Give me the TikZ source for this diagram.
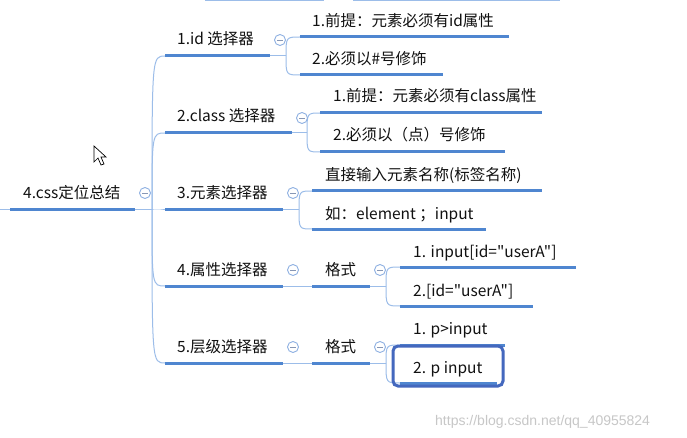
\documentclass[tikz,border=0pt]{standalone}
\usepackage{fontspec}
\setmainfont{Noto Sans CJK SC}[Ligatures=TeXOff]
\newfontfamily\wmfont{Liberation Sans}
\definecolor{ulblue}{HTML}{4F86D0}
\definecolor{lineblue}{HTML}{9CBDE9}
\definecolor{circblue}{HTML}{8EB0E2}
\definecolor{minuscol}{HTML}{8797B5}
\definecolor{boxblue}{HTML}{4468BE}
\definecolor{txtcol}{HTML}{111111}
\tikzset{
  ul/.style={line width=3pt, color=ulblue},
  conn/.style={line width=1pt, color=lineblue},
  txt/.style={anchor=base west, inner sep=0pt, font=\fontsize{15.5}{18}\selectfont, text=txtcol},
  coll/.style={circle, draw=circblue, line width=0.9pt, fill=white, minimum size=11pt, inner sep=0pt,
    path picture={\draw[minuscol, line width=0.9pt] ([xshift=-2.8pt]path picture bounding box.center) -- ([xshift=2.8pt]path picture bounding box.center);}},
  selbox/.style={draw=boxblue, line width=3pt, rounded corners=5pt},
}
\begin{document}
\begin{tikzpicture}[x=1pt,y=-1pt]
\useasboundingbox[fill=white] (0,0) rectangle (687,438);
% top edge artifacts
\draw[conn] (205,0.5) -- (324,0.5);
\draw[conn] (353,0.5) -- (560,0.5);

% ---------- coordinates ----------
% root
\coordinate (r-l) at (0,210);
\coordinate (r-s) at (10,210);
\coordinate (r-e) at (135,210);
\coordinate (rb) at (152,210);
% level 1
\coordinate (a-s) at (165,56);  \coordinate (a-e) at (270,56);  \coordinate (ab) at (286,56);
\coordinate (b-s) at (165,133); \coordinate (b-e) at (292,133); \coordinate (bb) at (307,133);
\coordinate (c-s) at (165,210); \coordinate (c-e) at (283,210); \coordinate (cb) at (299,210);
\coordinate (d-s) at (165,286); \coordinate (d-e) at (283,286);
\coordinate (e-s) at (165,363); \coordinate (e-e) at (283,363);
% level 2
\coordinate (a1-s) at (300,37);  \coordinate (a1-e) at (509,37);
\coordinate (a2-s) at (300,75);  \coordinate (a2-e) at (443,75);
\coordinate (b1-s) at (320,113); \coordinate (b1-e) at (542,113);
\coordinate (b2-s) at (320,152); \coordinate (b2-e) at (505,152);
\coordinate (c1-s) at (312,191); \coordinate (c1-e) at (542,191);
\coordinate (c2-s) at (312,229); \coordinate (c2-e) at (486,229);
\coordinate (d1-s) at (312,286); \coordinate (d1-e) at (370,286); \coordinate (d1b) at (386,286);
\coordinate (e1-s) at (312,363); \coordinate (e1-e) at (370,363); \coordinate (e1b) at (386,363);
% level 3
\coordinate (d11-s) at (400,267); \coordinate (d11-e) at (576,267);
\coordinate (d12-s) at (400,306); \coordinate (d12-e) at (533,306);
\coordinate (e11-s) at (400,345); \coordinate (e11-e) at (505,345);
\coordinate (e12-s) at (400,383); \coordinate (e12-e) at (497,383);

% ---------- connectors ----------
\draw[conn] (r-l) -- (r-s);
\draw[conn] (r-e) -- (rb);
\foreach \c in {a,b,c,d,e} {\draw[conn] (rb) .. controls (rb |- \c-s) .. (\c-s);}
\draw[conn] (a-e) -- (ab);
\draw[conn] (ab) .. controls (ab |- a1-s) .. (a1-s);
\draw[conn] (ab) .. controls (ab |- a2-s) .. (a2-s);
\draw[conn] (b-e) -- (bb);
\draw[conn] (bb) .. controls (bb |- b1-s) .. (b1-s);
\draw[conn] (bb) .. controls (bb |- b2-s) .. (b2-s);
\draw[conn] (c-e) -- (cb);
\draw[conn] (cb) .. controls (cb |- c1-s) .. (c1-s);
\draw[conn] (cb) .. controls (cb |- c2-s) .. (c2-s);
\draw[conn] (d-e) -- (d1-s);
\draw[conn] (e-e) -- (e1-s);
\draw[conn] (d1-e) -- (d1b);
\draw[conn] (d1b) .. controls (d1b |- d11-s) .. (d11-s);
\draw[conn] (d1b) .. controls (d1b |- d12-s) .. (d12-s);
\draw[conn] (e1-e) -- (e1b);
\draw[conn] (e1b) .. controls (e1b |- e11-s) .. (e11-s);
\draw[conn] (e1b) .. controls (e1b |- e12-s) .. (e12-s);

% ---------- underlines ----------
\foreach \u in {r,a,b,c,d,e,a1,a2,b1,b2,c1,c2,d1,e1,d11,d12,e11,e12} {\draw[ul] (\u-s) -- (\u-e);}

% ---------- texts ----------
\node[txt] (r) at (23,199) {4.css定位总结};
\node[txt] (a) at (177,45) {1.id 选择器};
\node[txt] (b) at (177,122) {2.class 选择器};
\node[txt] (c) at (177,199) {3.元素选择器};
\node[txt] (d) at (177,275) {4.属性选择器};
\node[txt] (e) at (177,352) {5.层级选择器};
\node[txt] (a1) at (312,27) {1.前提：元素必须有id属性};
\node[txt] (a2) at (312,65) {2.必须以\#号修饰};
\node[txt] (b1) at (333,102) {1.前提：元素必须有class属性};
\node[txt] (b2) at (333,141) {2.必须以（点）号修饰};
\node[txt] (c1) at (325,181) {直接输入元素名称(标签名称)};
\node[txt] (c2) at (325,219) {如：element ；input};
\node[txt] (d1) at (325,275) {格式};
\node[txt] (e1) at (325,352) {格式};
\node[txt] (d11) at (413,257) {1. input[id="userA"]};
\node[txt] (d12) at (413,296) {2.[id="userA"]};
\node[txt] (e11) at (413,334) {1. p>input};
\node[txt] (e12) at (413,373) {2. p input};

% selection box
\draw[selbox] (393,346) rectangle (503,386);

% ---------- collapse circles ----------
\node[coll] (cr) at (145,193) {};
\node[coll] (ca) at (280,40) {};
\node[coll] (cbc) at (302,118) {};
\node[coll] (ccc) at (293,193) {};
\node[coll] (cdc) at (293,270) {};
\node[coll] (cec) at (293,347) {};
\node[coll] (cd1) at (380,270) {};
\node[coll] (ce1) at (380,347) {};

% mouse cursor
\draw[black, fill=white, line width=0.7pt, line join=miter]
  (94,146) -- (94,162) -- (98,158) -- (101,165) -- (104,164) -- (101,157) -- (106,157) -- cycle;

% watermark
\node[anchor=base west, inner sep=0pt, font=\wmfont\fontsize{14}{16}\selectfont, text=black!22] (wm) at (435,425) {https://blog.csdn.net/qq\_40955824};
\end{tikzpicture}
\end{document}
